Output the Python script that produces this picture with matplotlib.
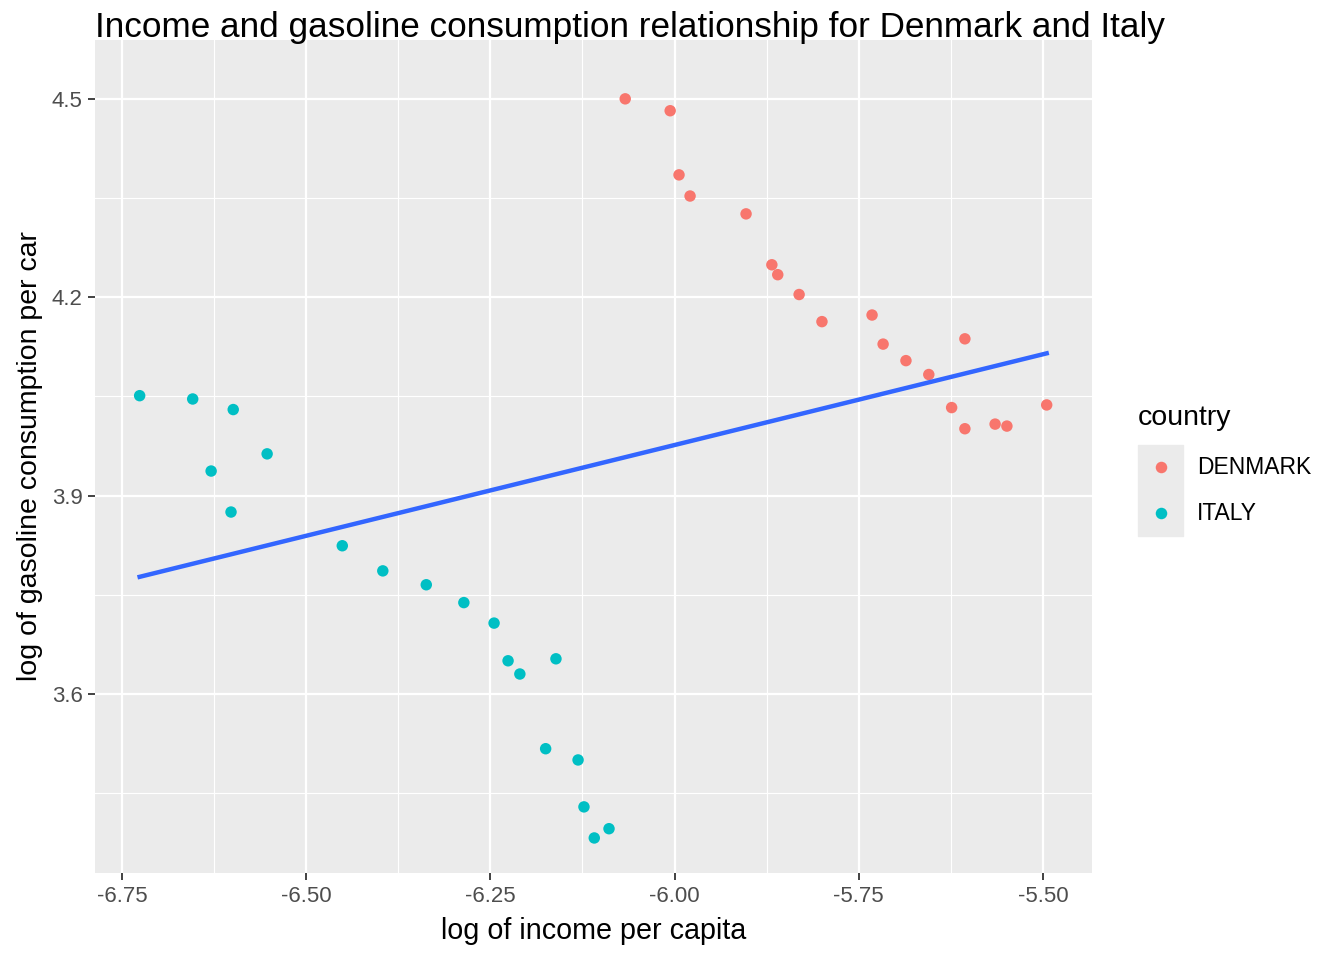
import numpy as np
import matplotlib.pyplot as plt
from matplotlib.lines import Line2D

# log income per capita / log gasoline per car
dk_income = [-6.067, -6.006, -5.994, -5.979, -5.903, -5.868, -5.860, -5.831, -5.800, -5.732,
             -5.717, -5.686, -5.655, -5.606, -5.624, -5.606, -5.565, -5.549, -5.495]
dk_gas = [4.500, 4.482, 4.385, 4.353, 4.326, 4.249, 4.234, 4.204, 4.163, 4.173,
          4.129, 4.104, 4.083, 4.137, 4.033, 4.001, 4.008, 4.005, 4.037]

it_income = [-6.726, -6.654, -6.599, -6.629, -6.553, -6.602, -6.451, -6.396, -6.337, -6.286,
             -6.245, -6.226, -6.210, -6.161, -6.175, -6.131, -6.123, -6.089, -6.109]
it_gas = [4.051, 4.046, 4.030, 3.937, 3.963, 3.875, 3.824, 3.786, 3.765, 3.738,
          3.707, 3.650, 3.630, 3.653, 3.517, 3.500, 3.429, 3.396, 3.382]

countries = ["DENMARK", "ITALY"]
colors = ["#F8766D", "#00BFC4"]

plt.rcParams['font.family'] = ['Liberation Sans', 'DejaVu Sans']

W, H = 1344, 960
fig = plt.figure(figsize=(13.44, 9.6), dpi=100)
ax = fig.add_axes([95 / W, 1 - 873 / H, 997 / W, 833 / H])
ax.set_facecolor("#EBEBEB")

# grid lines like ggplot
for v in [-6.625, -6.375, -6.125, -5.875, -5.625]:
    ax.axvline(v, color="white", lw=0.8, zorder=0)
for v in [-6.75, -6.5, -6.25, -6.0, -5.75, -5.5]:
    ax.axvline(v, color="white", lw=1.6, zorder=0)
for v in [3.45, 3.75, 4.05, 4.35]:
    ax.axhline(v, color="white", lw=0.8, zorder=0)
for v in [3.6, 3.9, 4.2, 4.5]:
    ax.axhline(v, color="white", lw=1.6, zorder=0)

ax.scatter(dk_income, dk_gas, s=68, color=colors[0], edgecolors="none", zorder=3)
ax.scatter(it_income, it_gas, s=68, color=colors[1], edgecolors="none", zorder=3)

# linear fit over both countries
xall = np.array(dk_income + it_income)
yall = np.array(dk_gas + it_gas)
b, a = np.polyfit(xall, yall, 1)
xs = np.array([xall.min(), xall.max()])
ax.plot(xs, a + b * xs, color="#3366FF", lw=3.2, zorder=4)

ax.set_xlim(-6.7866, -5.4335)
ax.set_ylim(3.329, 4.589)
ax.set_xticks([-6.75, -6.5, -6.25, -6.0, -5.75, -5.5])
ax.set_xticklabels(["-6.75", "-6.50", "-6.25", "-6.00", "-5.75", "-5.50"])
ax.set_yticks([3.6, 3.9, 4.2, 4.5])
ax.set_yticklabels(["3.6", "3.9", "4.2", "4.5"])
ax.tick_params(axis="both", labelsize=16, colors="#333333", labelcolor="#4D4D4D",
               length=5, width=1.3, pad=4)
for s in ax.spines.values():
    s.set_visible(False)

ax.set_xlabel("log of income per capita", fontsize=20.7, va="center")
ax.xaxis.set_label_coords(0.5, (873 - 931) / 833)
ax.set_ylabel("log of gasoline consumption per car", fontsize=20.5, va="center")
ax.yaxis.set_label_coords((30 - 95) / 997, 0.5)

fig.text(95 / W, 1 - 28 / H, "Income and gasoline consumption relationship for Denmark and Italy",
         fontsize=25.3, ha="left", va="center")

# legend drawn by hand to match the ggplot guide
fig.patches.append(plt.Rectangle((1138 / W, 1 - 536 / H), 45 / W, 91 / H,
                                 transform=fig.transFigure, color="#EBEBEB", zorder=0))
fig.text(1138 / W, 1 - 418 / H, "country", fontsize=20.5, ha="left", va="center")
for i, (name, c) in enumerate(zip(countries, colors)):
    yk = 1 - (467 + 46 * i) / H
    fig.add_artist(Line2D([1160.5 / W], [yk], marker="o", ls="none", color=c,
                          markersize=8.3, markeredgewidth=0, transform=fig.transFigure))
    fig.text(1197 / W, yk, name, fontsize=16.5, ha="left", va="center")

fig.savefig("out.png", dpi=100)
